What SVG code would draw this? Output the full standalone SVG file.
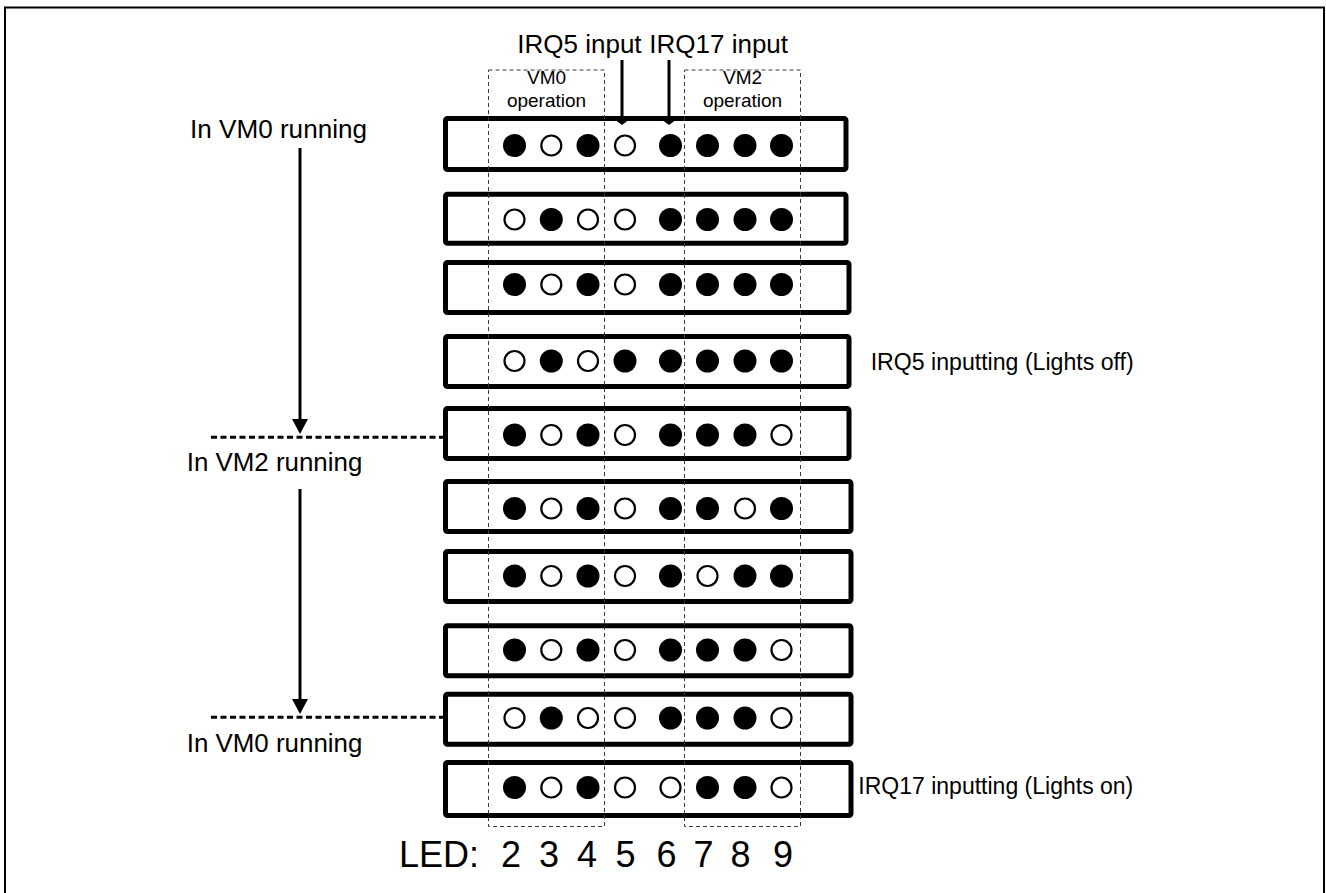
<svg xmlns="http://www.w3.org/2000/svg" width="1326" height="893" viewBox="0 0 1326 893">
<style>
text{font-family:"Liberation Sans",Arial,sans-serif;fill:#000}
.lbl{font-size:26px}
.side{font-size:23px}
.vm{font-size:19px;text-anchor:middle}
.led{font-size:36px;text-anchor:middle}
.row rect{fill:#fff;stroke:#000;stroke-width:5}
.on{fill:#000}
.off{fill:#fff;stroke:#000;stroke-width:2.2}
.vmbox{fill:none;stroke:#3a3a3a;stroke-width:1;stroke-dasharray:4 3}
.arrow{stroke:#000;stroke-width:3;fill:none}
.sep{stroke:#000;stroke-width:3;stroke-dasharray:6 3.5;fill:none}
</style>
<defs>
<marker id="ah" markerUnits="userSpaceOnUse" viewBox="0 0 15 16" refX="0" refY="8" markerWidth="15" markerHeight="16" orient="auto"><path d="M0,0 L15,8 L0,16 z" fill="#000"/></marker>
<marker id="ahs" markerUnits="userSpaceOnUse" viewBox="0 0 6 16" refX="0" refY="8" markerWidth="6" markerHeight="16" orient="auto"><path d="M0,0 L6,8 L0,16 z" fill="#000"/></marker>
</defs>
<rect x="5" y="7.5" width="1319" height="900" fill="#fff" stroke="#000" stroke-width="2"/>

<g id="row1" class="row"><rect x="445.5" y="118.5" width="400.5" height="51" rx="2"/>
<circle class="on" cx="514.5" cy="145.5" r="11.5"/><circle class="off" cx="551.3" cy="145.5" r="10"/><circle class="on" cx="588" cy="145.5" r="11.5"/><circle class="off" cx="625" cy="145.5" r="10"/><circle class="on" cx="670.5" cy="145.5" r="11.5"/><circle class="on" cx="707.5" cy="145.5" r="11.5"/><circle class="on" cx="745" cy="145.5" r="11.5"/><circle class="on" cx="781.5" cy="145.5" r="11.5"/></g>
<g id="row2" class="row"><rect x="445.5" y="194.2" width="400.5" height="49" rx="2"/>
<circle class="off" cx="514.5" cy="219.5" r="10"/><circle class="on" cx="551.3" cy="219.5" r="11.5"/><circle class="off" cx="588" cy="219.5" r="10"/><circle class="off" cx="625" cy="219.5" r="10"/><circle class="on" cx="670.5" cy="219.5" r="11.5"/><circle class="on" cx="707.5" cy="219.5" r="11.5"/><circle class="on" cx="745" cy="219.5" r="11.5"/><circle class="on" cx="781.5" cy="219.5" r="11.5"/></g>
<g id="row3" class="row"><rect x="445.5" y="262.5" width="403.5" height="50" rx="2"/>
<circle class="on" cx="514.5" cy="284.5" r="11.5"/><circle class="off" cx="551.3" cy="284.5" r="10"/><circle class="on" cx="588" cy="284.5" r="11.5"/><circle class="off" cx="625" cy="284.5" r="10"/><circle class="on" cx="670.5" cy="284.5" r="11.5"/><circle class="on" cx="707.5" cy="284.5" r="11.5"/><circle class="on" cx="745" cy="284.5" r="11.5"/><circle class="on" cx="781.5" cy="284.5" r="11.5"/></g>
<g id="row4" class="row"><rect x="445.5" y="336.5" width="403.5" height="50" rx="2"/>
<circle class="off" cx="514.5" cy="361" r="10"/><circle class="on" cx="551.3" cy="361" r="11.5"/><circle class="off" cx="588" cy="361" r="10"/><circle class="on" cx="625" cy="361" r="11.5"/><circle class="on" cx="670.5" cy="361" r="11.5"/><circle class="on" cx="707.5" cy="361" r="11.5"/><circle class="on" cx="745" cy="361" r="11.5"/><circle class="on" cx="781.5" cy="361" r="11.5"/></g>
<g id="row5" class="row"><rect x="445.5" y="408.5" width="403.5" height="50" rx="2"/>
<circle class="on" cx="514.5" cy="435" r="11.5"/><circle class="off" cx="551.3" cy="435" r="10"/><circle class="on" cx="588" cy="435" r="11.5"/><circle class="off" cx="625" cy="435" r="10"/><circle class="on" cx="670.5" cy="435" r="11.5"/><circle class="on" cx="707.5" cy="435" r="11.5"/><circle class="on" cx="745" cy="435" r="11.5"/><circle class="off" cx="781.5" cy="435" r="10"/></g>
<g id="row6" class="row"><rect x="445.5" y="481.5" width="405.5" height="50" rx="2"/>
<circle class="on" cx="514.5" cy="508.5" r="11.5"/><circle class="off" cx="551.3" cy="508.5" r="10"/><circle class="on" cx="588" cy="508.5" r="11.5"/><circle class="off" cx="625" cy="508.5" r="10"/><circle class="on" cx="670.5" cy="508.5" r="11.5"/><circle class="on" cx="707.5" cy="508.5" r="11.5"/><circle class="off" cx="745" cy="508.5" r="10"/><circle class="on" cx="781.5" cy="508.5" r="11.5"/></g>
<g id="row7" class="row"><rect x="445.5" y="551.5" width="405.5" height="50" rx="2"/>
<circle class="on" cx="514.5" cy="576" r="11.5"/><circle class="off" cx="551.3" cy="576" r="10"/><circle class="on" cx="588" cy="576" r="11.5"/><circle class="off" cx="625" cy="576" r="10"/><circle class="on" cx="670.5" cy="576" r="11.5"/><circle class="off" cx="707.5" cy="576" r="10"/><circle class="on" cx="745" cy="576" r="11.5"/><circle class="on" cx="781.5" cy="576" r="11.5"/></g>
<g id="row8" class="row"><rect x="445.5" y="625.8" width="405.5" height="50" rx="2"/>
<circle class="on" cx="514.5" cy="650" r="11.5"/><circle class="off" cx="551.3" cy="650" r="10"/><circle class="on" cx="588" cy="650" r="11.5"/><circle class="off" cx="625" cy="650" r="10"/><circle class="on" cx="670.5" cy="650" r="11.5"/><circle class="on" cx="707.5" cy="650" r="11.5"/><circle class="on" cx="745" cy="650" r="11.5"/><circle class="off" cx="781.5" cy="650" r="10"/></g>
<g id="row9" class="row"><rect x="445.5" y="694.2" width="405.5" height="50" rx="2"/>
<circle class="off" cx="514.5" cy="718" r="10"/><circle class="on" cx="551.3" cy="718" r="11.5"/><circle class="off" cx="588" cy="718" r="10"/><circle class="off" cx="625" cy="718" r="10"/><circle class="on" cx="670.5" cy="718" r="11.5"/><circle class="on" cx="707.5" cy="718" r="11.5"/><circle class="on" cx="745" cy="718" r="11.5"/><circle class="off" cx="781.5" cy="718" r="10"/></g>
<g id="row10" class="row"><rect x="445.5" y="762.5" width="405.5" height="53" rx="2"/>
<circle class="on" cx="514.5" cy="787.5" r="11.5"/><circle class="off" cx="551.3" cy="787.5" r="10"/><circle class="on" cx="588" cy="787.5" r="11.5"/><circle class="off" cx="625" cy="787.5" r="10"/><circle class="off" cx="670.5" cy="787.5" r="10"/><circle class="on" cx="707.5" cy="787.5" r="11.5"/><circle class="on" cx="745" cy="787.5" r="11.5"/><circle class="off" cx="781.5" cy="787.5" r="10"/></g>

<g id="vm0box"><rect class="vmbox" x="488.5" y="70" width="116" height="756.5"/>
<text class="vm" x="546.5" y="83.5">VM0</text><text class="vm" x="546.5" y="107">operation</text></g>
<g id="vm2box"><rect class="vmbox" x="684.5" y="70" width="116" height="756.5"/>
<text class="vm" x="742.5" y="83.5">VM2</text><text class="vm" x="742.5" y="107">operation</text></g>

<g id="connectors">
<line class="arrow" x1="622" y1="60" x2="622" y2="119" marker-end="url(#ahs)"/>
<line class="arrow" x1="669" y1="60" x2="669" y2="119" marker-end="url(#ahs)"/>
<line class="arrow" x1="300" y1="148" x2="300" y2="419" marker-end="url(#ah)"/>
<line class="arrow" x1="300" y1="489" x2="300" y2="699" marker-end="url(#ah)"/>
<line class="sep" x1="211" y1="437.3" x2="443" y2="437.3"/>
<line class="sep" x1="211" y1="717.3" x2="443" y2="717.3"/>
</g>

<g id="labels">
<text class="lbl" x="517.3" y="53.3">IRQ5 input</text>
<text class="lbl" x="649.3" y="53.3">IRQ17 input</text>
<text class="lbl" x="190" y="137.7" textLength="177" lengthAdjust="spacingAndGlyphs">In VM0 running</text>
<text class="lbl" x="186.7" y="471" textLength="175.6" lengthAdjust="spacingAndGlyphs">In VM2 running</text>
<text class="lbl" x="186.7" y="751.7" textLength="175.7" lengthAdjust="spacingAndGlyphs">In VM0 running</text>
<text class="side" x="870.7" y="370" textLength="263" lengthAdjust="spacingAndGlyphs">IRQ5 inputting (Lights off)</text>
<text class="side" x="858.3" y="794" textLength="275" lengthAdjust="spacingAndGlyphs">IRQ17 inputting (Lights on)</text>
<text class="led" x="479" y="867.3" style="text-anchor:end">LED:</text>
<text class="led" x="511" y="867.3">2</text><text class="led" x="549" y="867.3">3</text><text class="led" x="587" y="867.3">4</text><text class="led" x="625.5" y="867.3">5</text><text class="led" x="666.5" y="867.3">6</text><text class="led" x="703.5" y="867.3">7</text><text class="led" x="740.5" y="867.3">8</text><text class="led" x="783" y="867.3">9</text>
</g>
</svg>
